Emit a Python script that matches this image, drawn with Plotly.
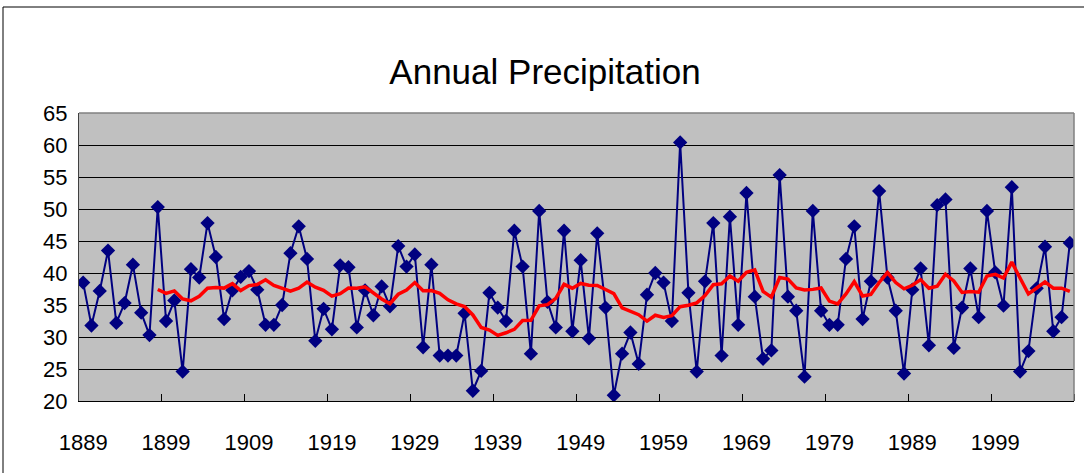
import plotly.graph_objects as go
import pandas as pd

years = list(range(1889, 2009))
precip = [
    38.5, 31.8, 37.2, 43.5, 32.2, 35.3, 41.3, 33.8, 30.3, 50.3,
    32.5, 35.7, 24.6, 40.6, 39.3, 47.8, 42.5, 32.8, 37.3, 39.4,
    40.3, 37.4, 31.9, 31.9, 35.0, 43.1, 47.3, 42.2, 29.4, 34.4,
    31.2, 41.2, 40.9, 31.5, 37.3, 33.4, 37.9, 34.8, 44.2, 41.0,
    42.9, 28.4, 41.3, 27.1, 27.1, 27.1, 33.7, 21.6, 24.7, 36.9,
    34.6, 32.5, 46.6, 41.0, 27.4, 49.7, 35.5, 31.5, 46.6, 30.9,
    42.0, 29.8, 46.2, 34.6, 20.9, 27.4, 30.7, 25.8, 36.6, 40.0,
    38.5, 32.5, 60.4, 36.9, 24.6, 38.7, 47.8, 27.1, 48.8, 31.9,
    52.5, 36.3, 26.6, 27.9, 55.3, 36.3, 34.1, 23.8, 49.7, 34.1,
    31.9, 31.9, 42.2, 47.3, 32.8, 38.7, 52.8, 39.3, 34.1, 24.3,
    37.4, 40.7, 28.7, 50.6, 51.5, 28.3, 34.6, 40.7, 33.1, 49.7,
    40.1, 34.9, 53.4, 24.6, 27.8, 37.6, 44.1, 30.9, 33.1, 44.7,
]
x_tick_labels = [str(y) for y in range(1889, 2000, 10)]
y_ticks = [20, 25, 30, 35, 40, 45, 50, 55, 60, 65]
title_text = "Annual Precipitation"

# 10-period moving-average trendline (as in the original spreadsheet chart)
ma = pd.Series(precip).rolling(10).mean()

fig = go.Figure()
fig.add_trace(go.Scatter(
    x=years, y=precip, mode="lines+markers",
    line=dict(color="#000080", width=2),
    marker=dict(symbol="diamond", size=11, color="#000080"),
    hoverinfo="x+y", showlegend=False,
))
fig.add_trace(go.Scatter(
    x=years, y=ma, mode="lines",
    line=dict(color="#FF0000", width=3.5),
    showlegend=False,
))

L, R, T, B = 79, 10, 113, 72
W, H = 1084, 473
pw, ph = W - L - R, H - T - B

def px_x(p):
    return (p - L) / pw

def px_y(p):
    return (H - B - p) / ph

fig.update_layout(
    width=W, height=H,
    margin=dict(l=L, r=R, t=T, b=B, autoexpand=False),
    paper_bgcolor="white",
    plot_bgcolor="#C0C0C0",
    title=dict(text=title_text, x=(545 - L) / pw, xref="paper", xanchor="center",
               y=1 - 72 / H, yanchor="middle", automargin=False,
               font=dict(family="Liberation Sans Narrow, Liberation Sans, Arial", size=35, color="black")),
    font=dict(family="Liberation Sans, Arial", color="black"),
    xaxis=dict(
        range=[1888.5, 2008.5], automargin=False,
        tickvals=[int(t) for t in x_tick_labels], ticktext=x_tick_labels,
        ticks="", showgrid=False, zeroline=False,
        showline=True, linecolor="black", linewidth=1,
        tickfont=dict(size=22), ticklabelstandoff=22,
        minor=dict(tickvals=[1898.5 + 10 * k for k in range(12)], ticks="inside",
                   ticklen=7, tickcolor="black", tickwidth=1, showgrid=False),
    ),
    yaxis=dict(
        range=[20, 65], tickvals=y_ticks, automargin=False,
        ticks="inside", ticklen=7, tickcolor="black",
        showgrid=True, gridcolor="black", gridwidth=1, zeroline=False,
        showline=True, linecolor="#404040", linewidth=1,
        tickfont=dict(size=22), ticklabelstandoff=6,
    ),
    shapes=[
        dict(type="line", xref="paper", yref="paper", x0=0, x1=1, y0=1, y1=1,
             line=dict(color="#808080", width=1.5)),
        dict(type="line", xref="paper", yref="paper", x0=1, x1=1, y0=0, y1=1,
             line=dict(color="#808080", width=1.5)),
        dict(type="line", xref="paper", yref="paper", x0=px_x(3), x1=px_x(3),
             y0=px_y(7), y1=px_y(480), line=dict(color="black", width=1)),
        dict(type="line", xref="paper", yref="paper", x0=px_x(3), x1=px_x(1090),
             y0=px_y(7), y1=px_y(7), line=dict(color="black", width=1)),
    ],
)

fig.write_html("out.html", config={"displayModeBar": False},
               post_script="document.body.style.margin='0';")
